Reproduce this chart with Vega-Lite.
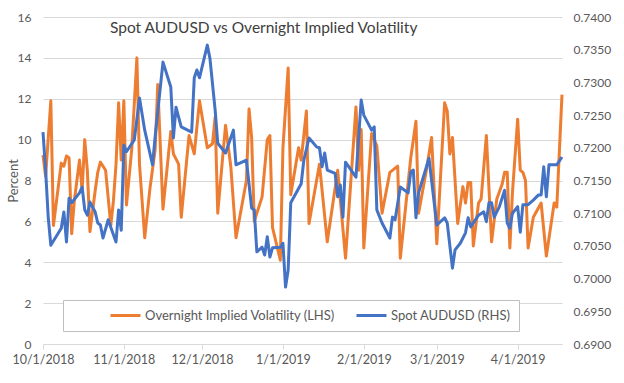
{
  "$schema": "https://vega.github.io/schema/vega-lite/v6.json",
  "width": 519,
  "height": 327,
  "autosize": {"type": "none"},
  "padding": {"left": 43, "top": 17, "right": 62, "bottom": 39},
  "background": "white",
  "config": {
    "font": "Lato",
    "view": {"stroke": null},
    "axis": {"labelFont": "Lato", "labelColor": "#595959", "labelFontSize": 12, "titleColor": "#595959", "titleFont": "Lato", "titleFontWeight": "normal"}
  },
  "title": {
    "text": "Spot AUDUSD vs Overnight Implied Volatility",
    "anchor": "start",
    "frame": "group",
    "dx": 67,
    "dy": 25,
    "offset": -12,
    "baseline": "alphabetic",
    "fontSize": 15.5,
    "fontWeight": "normal",
    "color": "#404040",
    "font": "Lato"
  },
  "datasets": {
    "vol": [
      {"date": "2018-10-01", "vol": 9.25}, {"date": "2018-10-02", "vol": 8.2}, {"date": "2018-10-04", "vol": 11.9}, {"date": "2018-10-05", "vol": 5.8},
      {"date": "2018-10-08", "vol": 8.85}, {"date": "2018-10-09", "vol": 8.7}, {"date": "2018-10-10", "vol": 9.2}, {"date": "2018-10-11", "vol": 9.1},
      {"date": "2018-10-12", "vol": 5.4}, {"date": "2018-10-13", "vol": 7.0}, {"date": "2018-10-15", "vol": 9.0}, {"date": "2018-10-16", "vol": 7.5},
      {"date": "2018-10-17", "vol": 10.0}, {"date": "2018-10-18", "vol": 8.5}, {"date": "2018-10-19", "vol": 5.5}, {"date": "2018-10-21", "vol": 7.5},
      {"date": "2018-10-22", "vol": 8.4}, {"date": "2018-10-23", "vol": 8.9}, {"date": "2018-10-25", "vol": 8.5}, {"date": "2018-10-27", "vol": 5.8},
      {"date": "2018-10-28", "vol": 7.0}, {"date": "2018-10-29", "vol": 8.8}, {"date": "2018-10-30", "vol": 11.8}, {"date": "2018-10-31", "vol": 9.0},
      {"date": "2018-11-01", "vol": 11.9}, {"date": "2018-11-02", "vol": 6.8}, {"date": "2018-11-04", "vol": 9.5}, {"date": "2018-11-06", "vol": 14.0},
      {"date": "2018-11-07", "vol": 8.8}, {"date": "2018-11-09", "vol": 5.2}, {"date": "2018-11-11", "vol": 7.6}, {"date": "2018-11-13", "vol": 9.5},
      {"date": "2018-11-14", "vol": 12.7}, {"date": "2018-11-16", "vol": 6.6}, {"date": "2018-11-19", "vol": 10.4}, {"date": "2018-11-20", "vol": 9.3},
      {"date": "2018-11-22", "vol": 8.8}, {"date": "2018-11-23", "vol": 6.2}, {"date": "2018-11-26", "vol": 10.2}, {"date": "2018-11-28", "vol": 9.3},
      {"date": "2018-11-30", "vol": 11.9}, {"date": "2018-12-03", "vol": 9.6}, {"date": "2018-12-05", "vol": 9.8}, {"date": "2018-12-06", "vol": 11.1},
      {"date": "2018-12-07", "vol": 6.4}, {"date": "2018-12-09", "vol": 9.3}, {"date": "2018-12-10", "vol": 10.7}, {"date": "2018-12-12", "vol": 8.7},
      {"date": "2018-12-14", "vol": 5.2}, {"date": "2018-12-18", "vol": 8.0}, {"date": "2018-12-19", "vol": 11.5}, {"date": "2018-12-20", "vol": 10.1},
      {"date": "2018-12-21", "vol": 6.0}, {"date": "2018-12-24", "vol": 7.2}, {"date": "2018-12-26", "vol": 10.0}, {"date": "2018-12-27", "vol": 10.2},
      {"date": "2018-12-28", "vol": 5.7}, {"date": "2018-12-31", "vol": 4.1}, {"date": "2019-01-01", "vol": 9.6}, {"date": "2019-01-03", "vol": 13.5},
      {"date": "2019-01-04", "vol": 7.3}, {"date": "2019-01-07", "vol": 9.6}, {"date": "2019-01-08", "vol": 9.0}, {"date": "2019-01-10", "vol": 11.4},
      {"date": "2019-01-11", "vol": 5.9}, {"date": "2019-01-15", "vol": 8.8}, {"date": "2019-01-18", "vol": 5.0}, {"date": "2019-01-22", "vol": 8.5},
      {"date": "2019-01-25", "vol": 4.2}, {"date": "2019-01-29", "vol": 11.6}, {"date": "2019-01-30", "vol": 8.5}, {"date": "2019-01-31", "vol": 10.5},
      {"date": "2019-02-01", "vol": 4.7}, {"date": "2019-02-04", "vol": 10.3}, {"date": "2019-02-06", "vol": 9.7}, {"date": "2019-02-08", "vol": 6.4},
      {"date": "2019-02-11", "vol": 8.4}, {"date": "2019-02-14", "vol": 8.7}, {"date": "2019-02-15", "vol": 4.2}, {"date": "2019-02-19", "vol": 9.1},
      {"date": "2019-02-21", "vol": 10.9}, {"date": "2019-02-22", "vol": 6.4}, {"date": "2019-02-25", "vol": 8.5}, {"date": "2019-02-27", "vol": 10.1},
      {"date": "2019-03-01", "vol": 4.9}, {"date": "2019-03-04", "vol": 11.8}, {"date": "2019-03-05", "vol": 11.4}, {"date": "2019-03-06", "vol": 9.3},
      {"date": "2019-03-07", "vol": 10.1}, {"date": "2019-03-09", "vol": 5.9}, {"date": "2019-03-11", "vol": 7.7}, {"date": "2019-03-12", "vol": 6.9},
      {"date": "2019-03-13", "vol": 7.9}, {"date": "2019-03-14", "vol": 7.9}, {"date": "2019-03-15", "vol": 4.8}, {"date": "2019-03-17", "vol": 6.9},
      {"date": "2019-03-18", "vol": 7.1}, {"date": "2019-03-20", "vol": 10.2}, {"date": "2019-03-22", "vol": 5.0}, {"date": "2019-03-24", "vol": 7.1},
      {"date": "2019-03-26", "vol": 7.8}, {"date": "2019-03-27", "vol": 8.4}, {"date": "2019-03-28", "vol": 8.4}, {"date": "2019-03-29", "vol": 4.7},
      {"date": "2019-03-30", "vol": 7.4}, {"date": "2019-04-01", "vol": 11.0}, {"date": "2019-04-02", "vol": 8.5}, {"date": "2019-04-03", "vol": 8.4},
      {"date": "2019-04-04", "vol": 8.0}, {"date": "2019-04-05", "vol": 4.7}, {"date": "2019-04-07", "vol": 6.2}, {"date": "2019-04-10", "vol": 6.9},
      {"date": "2019-04-12", "vol": 4.3}, {"date": "2019-04-15", "vol": 6.9}, {"date": "2019-04-16", "vol": 6.7}, {"date": "2019-04-18", "vol": 12.2}
    ],
    "spot": [
      {"date": "2018-10-01", "spot": 0.7224}, {"date": "2018-10-02", "spot": 0.7166}, {"date": "2018-10-03", "spot": 0.7094}, {"date": "2018-10-04", "spot": 0.7051},
      {"date": "2018-10-06", "spot": 0.7064}, {"date": "2018-10-08", "spot": 0.7077}, {"date": "2018-10-09", "spot": 0.7102}, {"date": "2018-10-10", "spot": 0.7056},
      {"date": "2018-10-11", "spot": 0.7123}, {"date": "2018-10-12", "spot": 0.7116}, {"date": "2018-10-15", "spot": 0.7131}, {"date": "2018-10-16", "spot": 0.7140},
      {"date": "2018-10-17", "spot": 0.7105}, {"date": "2018-10-18", "spot": 0.7097}, {"date": "2018-10-19", "spot": 0.7117}, {"date": "2018-10-21", "spot": 0.7102},
      {"date": "2018-10-22", "spot": 0.7085}, {"date": "2018-10-23", "spot": 0.7082}, {"date": "2018-10-24", "spot": 0.7062}, {"date": "2018-10-26", "spot": 0.7090},
      {"date": "2018-10-28", "spot": 0.7067}, {"date": "2018-10-29", "spot": 0.7056}, {"date": "2018-10-30", "spot": 0.7105}, {"date": "2018-10-31", "spot": 0.7074},
      {"date": "2018-11-01", "spot": 0.7204}, {"date": "2018-11-02", "spot": 0.7194}, {"date": "2018-11-05", "spot": 0.7212}, {"date": "2018-11-07", "spot": 0.7276},
      {"date": "2018-11-09", "spot": 0.7227}, {"date": "2018-11-12", "spot": 0.7174}, {"date": "2018-11-13", "spot": 0.7217}, {"date": "2018-11-16", "spot": 0.7331},
      {"date": "2018-11-19", "spot": 0.7293}, {"date": "2018-11-20", "spot": 0.7215}, {"date": "2018-11-21", "spot": 0.7262}, {"date": "2018-11-23", "spot": 0.7232},
      {"date": "2018-11-27", "spot": 0.7224}, {"date": "2018-11-28", "spot": 0.7307}, {"date": "2018-11-29", "spot": 0.7319}, {"date": "2018-11-30", "spot": 0.7307},
      {"date": "2018-12-03", "spot": 0.7357}, {"date": "2018-12-04", "spot": 0.7337}, {"date": "2018-12-06", "spot": 0.7258}, {"date": "2018-12-07", "spot": 0.7207},
      {"date": "2018-12-10", "spot": 0.7192}, {"date": "2018-12-13", "spot": 0.7227}, {"date": "2018-12-14", "spot": 0.7174}, {"date": "2018-12-18", "spot": 0.7181},
      {"date": "2018-12-20", "spot": 0.7108}, {"date": "2018-12-21", "spot": 0.7105}, {"date": "2018-12-22", "spot": 0.7041}, {"date": "2018-12-24", "spot": 0.7048},
      {"date": "2018-12-25", "spot": 0.7036}, {"date": "2018-12-26", "spot": 0.7064}, {"date": "2018-12-27", "spot": 0.7033}, {"date": "2018-12-28", "spot": 0.7047},
      {"date": "2018-12-31", "spot": 0.7048}, {"date": "2019-01-01", "spot": 0.7054}, {"date": "2019-01-02", "spot": 0.6987}, {"date": "2019-01-03", "spot": 0.7013},
      {"date": "2019-01-04", "spot": 0.7116}, {"date": "2019-01-08", "spot": 0.7145}, {"date": "2019-01-09", "spot": 0.7181}, {"date": "2019-01-11", "spot": 0.7215},
      {"date": "2019-01-14", "spot": 0.7201}, {"date": "2019-01-15", "spot": 0.7200}, {"date": "2019-01-16", "spot": 0.7171}, {"date": "2019-01-17", "spot": 0.7192},
      {"date": "2019-01-18", "spot": 0.7166}, {"date": "2019-01-21", "spot": 0.7161}, {"date": "2019-01-22", "spot": 0.7125}, {"date": "2019-01-23", "spot": 0.7143},
      {"date": "2019-01-24", "spot": 0.7094}, {"date": "2019-01-25", "spot": 0.7178}, {"date": "2019-01-28", "spot": 0.7161}, {"date": "2019-01-29", "spot": 0.7155},
      {"date": "2019-01-31", "spot": 0.7273}, {"date": "2019-02-01", "spot": 0.7250}, {"date": "2019-02-04", "spot": 0.7227}, {"date": "2019-02-05", "spot": 0.7232},
      {"date": "2019-02-06", "spot": 0.7105}, {"date": "2019-02-08", "spot": 0.7085}, {"date": "2019-02-11", "spot": 0.7062}, {"date": "2019-02-12", "spot": 0.7094},
      {"date": "2019-02-13", "spot": 0.7090}, {"date": "2019-02-15", "spot": 0.7140}, {"date": "2019-02-18", "spot": 0.7131}, {"date": "2019-02-19", "spot": 0.7163},
      {"date": "2019-02-20", "spot": 0.7166}, {"date": "2019-02-21", "spot": 0.7093}, {"date": "2019-02-22", "spot": 0.7131}, {"date": "2019-02-26", "spot": 0.7184},
      {"date": "2019-03-01", "spot": 0.7082}, {"date": "2019-03-04", "spot": 0.7093}, {"date": "2019-03-05", "spot": 0.7085}, {"date": "2019-03-07", "spot": 0.7016},
      {"date": "2019-03-08", "spot": 0.7044}, {"date": "2019-03-10", "spot": 0.7054}, {"date": "2019-03-12", "spot": 0.7070}, {"date": "2019-03-13", "spot": 0.7093},
      {"date": "2019-03-14", "spot": 0.7079}, {"date": "2019-03-17", "spot": 0.7097}, {"date": "2019-03-19", "spot": 0.7102}, {"date": "2019-03-20", "spot": 0.7087},
      {"date": "2019-03-21", "spot": 0.7116}, {"date": "2019-03-22", "spot": 0.7116}, {"date": "2019-03-23", "spot": 0.7094}, {"date": "2019-03-25", "spot": 0.7110},
      {"date": "2019-03-27", "spot": 0.7135}, {"date": "2019-03-28", "spot": 0.7085}, {"date": "2019-03-29", "spot": 0.7077}, {"date": "2019-03-30", "spot": 0.7100},
      {"date": "2019-04-01", "spot": 0.7110}, {"date": "2019-04-02", "spot": 0.7071}, {"date": "2019-04-03", "spot": 0.7113}, {"date": "2019-04-05", "spot": 0.7113},
      {"date": "2019-04-07", "spot": 0.7120}, {"date": "2019-04-09", "spot": 0.7128}, {"date": "2019-04-10", "spot": 0.7128}, {"date": "2019-04-11", "spot": 0.7171},
      {"date": "2019-04-12", "spot": 0.7125}, {"date": "2019-04-13", "spot": 0.7174}, {"date": "2019-04-16", "spot": 0.7174}, {"date": "2019-04-18", "spot": 0.7186}
    ]
  },
  "layer": [
    {
      "data": {"name": "vol"},
      "mark": {"type": "line", "strokeWidth": 3, "strokeJoin": "round"},
      "encoding": {
        "x": {
          "field": "date", "type": "temporal",
          "scale": {"type": "utc", "domain": [1538352000000, 1555545600000]},
          "axis": {
            "title": null,
            "values": [1538352000000, 1541030400000, 1543622400000, 1546300800000, 1548979200000, 1551398400000, 1554076800000],
            "format": "%-m/%-d/%Y",
            "labelOverlap": false,
            "labelFlush": false,
            "grid": false,
            "domain": true, "domainColor": "#d9d9d9", "domainWidth": 1,
            "ticks": true, "tickColor": "#d9d9d9", "tickSize": 5,
            "labelPadding": 4, "labelFontSize": 12.5
          }
        },
        "y": {
          "field": "vol", "type": "quantitative",
          "scale": {"domain": [0, 16]},
          "axis": {
            "title": "Percent", "titleFontSize": 13, "titlePadding": -3,
            "values": [0, 2, 4, 6, 8, 10, 12, 14, 16],
            "grid": true, "gridColor": "#d9d9d9", "gridWidth": 1,
            "domain": false, "ticks": false, "labelPadding": 12
          }
        },
        "color": {
          "datum": "Overnight Implied Volatility (LHS)", "type": "nominal",
          "scale": {"domain": ["Overnight Implied Volatility (LHS)", "Spot AUDUSD (RHS)"], "range": ["#ED7D31", "#4472C4"]},
          "legend": {
            "orient": "none", "legendX": 20, "legendY": 283,
            "direction": "horizontal", "columns": 2,
            "title": "\u00a0", "titleOrient": "left", "titlePadding": 38, "titleFontSize": 13,
            "fillColor": "white", "strokeColor": "#bfbfbf", "padding": 8,
            "symbolType": "stroke", "symbolSize": 900, "symbolStrokeWidth": 3,
            "clipHeight": 15,
            "labelFont": "Lato", "labelFontSize": 13, "labelColor": "#595959", "labelLimit": 400, "labelOffset": 3,
            "columnPadding": 19,
            "labelExpr": "datum.label == 'Spot AUDUSD (RHS)' ? datum.label + '\u00a0\u00a0\u00a0\u00a0\u00a0\u00a0\u00a0\u00a0\u00a0\u00a0\u00a0\u00a0\u00a0\u00a0\u00a0\u00a0\u00a0' : datum.label"
          }
        }
      }
    },
    {
      "data": {"name": "spot"},
      "mark": {"type": "line", "strokeWidth": 3, "strokeJoin": "round"},
      "encoding": {
        "x": {"field": "date", "type": "temporal"},
        "y": {
          "field": "spot", "type": "quantitative",
          "scale": {"domain": [0.69, 0.74], "zero": false},
          "axis": {
            "orient": "right", "title": null,
            "values": [0.69, 0.695, 0.7, 0.705, 0.71, 0.715, 0.72, 0.725, 0.73, 0.735, 0.74],
            "format": ".4f", "grid": false, "domain": false, "ticks": false, "labelPadding": 11
          }
        },
        "color": {"datum": "Spot AUDUSD (RHS)", "type": "nominal"}
      }
    }
  ],
  "resolve": {"scale": {"y": "independent"}}
}
